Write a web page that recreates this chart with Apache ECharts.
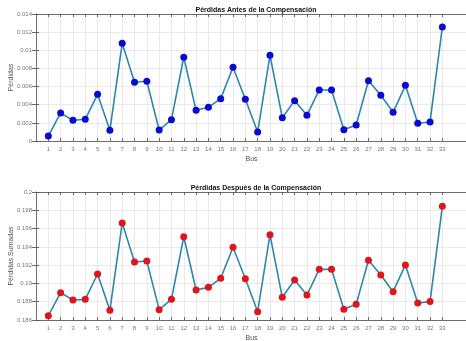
<!DOCTYPE html>
<html>
<head>
<meta charset="utf-8">
<script src="https://cdn.jsdelivr.net/npm/echarts@6/dist/echarts.min.js"></script>
<style>
  html, body { margin: 0; padding: 0; background: #fff; }
  #chart { width: 466px; height: 341px; }
</style>
</head>
<body>
<div id="chart"></div>
<script>
// Bus numbers
const buses = Array.from({ length: 33 }, (_, i) => i + 1);

// Losses per bus before compensation
const lossesBefore = [
  0.00055, 0.00309, 0.00228, 0.00239, 0.00515, 0.00118, 0.01077, 0.00647,
  0.00658, 0.00121, 0.00235, 0.00923, 0.00338, 0.00371, 0.00467, 0.00813,
  0.00460, 0.00099, 0.00945, 0.00257, 0.00445, 0.00283, 0.00563, 0.00563,
  0.00125, 0.00176, 0.00665, 0.00504, 0.00316, 0.00614, 0.00195, 0.00210,
  0.01257
];

// Summed losses per bus after compensation
const lossesAfter = [
  0.18647, 0.18899, 0.18819, 0.18826, 0.19103, 0.18706, 0.19661, 0.19234,
  0.19245, 0.18713, 0.18826, 0.19511, 0.18928, 0.18957, 0.19056, 0.19395,
  0.19052, 0.18691, 0.19533, 0.18848, 0.19037, 0.18873, 0.19154, 0.19154,
  0.18717, 0.18771, 0.19253, 0.19092, 0.18910, 0.19202, 0.18786, 0.18801,
  0.19843
];

// Y tick values for each panel
const yTicksBefore = [0, 0.002, 0.004, 0.006, 0.008, 0.01, 0.012, 0.014];
const yTicksAfter = [0.186, 0.188, 0.19, 0.192, 0.194, 0.196, 0.198, 0.2];

const FONT = '"Liberation Sans", Arial, sans-serif';
const AXIS_COLOR = '#4a4a4a';
const GRID_COLOR = '#e4e4e4';
const LINE_COLOR = '#2f86ad';
const LABEL_COLOR = '#777';

const fmt = v => String(parseFloat(v.toFixed(4)));

function xAxes(gridIndex) {
  return [
    {
      type: 'value', gridIndex, min: 0, max: 35, position: 'bottom',
      name: 'Bus', nameLocation: 'middle', nameGap: 15, nameMoveOverlap: false,
      nameTextStyle: { fontFamily: FONT, fontSize: 7, color: '#555' },
      axisLine: { show: true, onZero: false, lineStyle: { color: AXIS_COLOR, width: 0.8 } },
      axisTick: { show: true, inside: true, length: 3, customValues: buses, lineStyle: { color: AXIS_COLOR, width: 0.8 } },
      axisLabel: { show: true, customValues: buses, margin: 5, fontFamily: FONT, fontSize: 6, color: LABEL_COLOR, formatter: v => String(v) },
      splitLine: { show: true, lineStyle: { color: GRID_COLOR, width: 0.8 } }
    },
    {
      type: 'value', gridIndex, min: 0, max: 35, position: 'top',
      axisLine: { show: true, onZero: false, lineStyle: { color: AXIS_COLOR, width: 0.8 } },
      axisTick: { show: true, inside: true, length: 3, customValues: buses, lineStyle: { color: AXIS_COLOR, width: 0.8 } },
      axisLabel: { show: false },
      splitLine: { show: false }
    }
  ];
}

function yAxes(gridIndex, ticks, name) {
  const min = ticks[0], max = ticks[ticks.length - 1];
  return [
    {
      type: 'value', gridIndex, min, max, position: 'left',
      name, nameLocation: 'middle', nameGap: 21, nameMoveOverlap: false,
      nameTextStyle: { fontFamily: FONT, fontSize: 7, color: '#555' },
      axisLine: { show: true, onZero: false, lineStyle: { color: AXIS_COLOR, width: 0.8 } },
      axisTick: { show: true, inside: true, length: 3, customValues: ticks, lineStyle: { color: AXIS_COLOR, width: 0.8 } },
      axisLabel: { show: true, customValues: ticks, margin: 4, fontFamily: FONT, fontSize: 6, color: LABEL_COLOR, formatter: fmt },
      splitLine: { show: true, lineStyle: { color: GRID_COLOR, width: 0.8 } }
    },
    {
      type: 'value', gridIndex, min, max, position: 'right',
      axisLine: { show: false },
      axisTick: { show: true, inside: true, length: 4, customValues: ticks, lineStyle: { color: AXIS_COLOR, width: 0.8 } },
      axisLabel: { show: false },
      splitLine: { show: false }
    }
  ];
}

function lossSeries(values, xIndex, yIndex, markerColor) {
  return {
    type: 'line',
    xAxisIndex: xIndex, yAxisIndex: yIndex,
    data: buses.map((b, i) => [b, values[i]]),
    symbol: 'circle', symbolSize: 7,
    lineStyle: { color: LINE_COLOR, width: 1.6 },
    itemStyle: { color: markerColor, borderWidth: 0 },
    animation: false
  };
}

const chart = echarts.init(document.getElementById('chart'), null, { renderer: 'canvas' });
chart.setOption({
  backgroundColor: '#ffffff',
  animation: false,
  title: [
    { text: 'Pérdidas Antes de la Compensación', left: 251, top: 2, textAlign: 'center',
      textStyle: { fontFamily: FONT, fontSize: 7, fontWeight: 'bold', color: '#111' } },
    { text: 'Pérdidas Despuès de la Compensación', left: 251, top: 180, textAlign: 'center',
      textStyle: { fontFamily: FONT, fontSize: 7, fontWeight: 'bold', color: '#111' } }
  ],
  grid: [
    { left: 36, top: 14, width: 431, height: 127, containLabel: false, outerBoundsMode: 'none' },
    { left: 36, top: 192, width: 431, height: 128, containLabel: false, outerBoundsMode: 'none' }
  ],
  xAxis: [...xAxes(0), ...xAxes(1)],
  yAxis: [
    ...yAxes(0, yTicksBefore, 'Pérdidas'),
    ...yAxes(1, yTicksAfter, 'Pérdidas Sumadas')
  ],
  series: [
    lossSeries(lossesBefore, 0, 0, '#0a0ad2'),
    lossSeries(lossesAfter, 2, 2, '#e0141c')
  ]
});
</script>
</body>
</html>
